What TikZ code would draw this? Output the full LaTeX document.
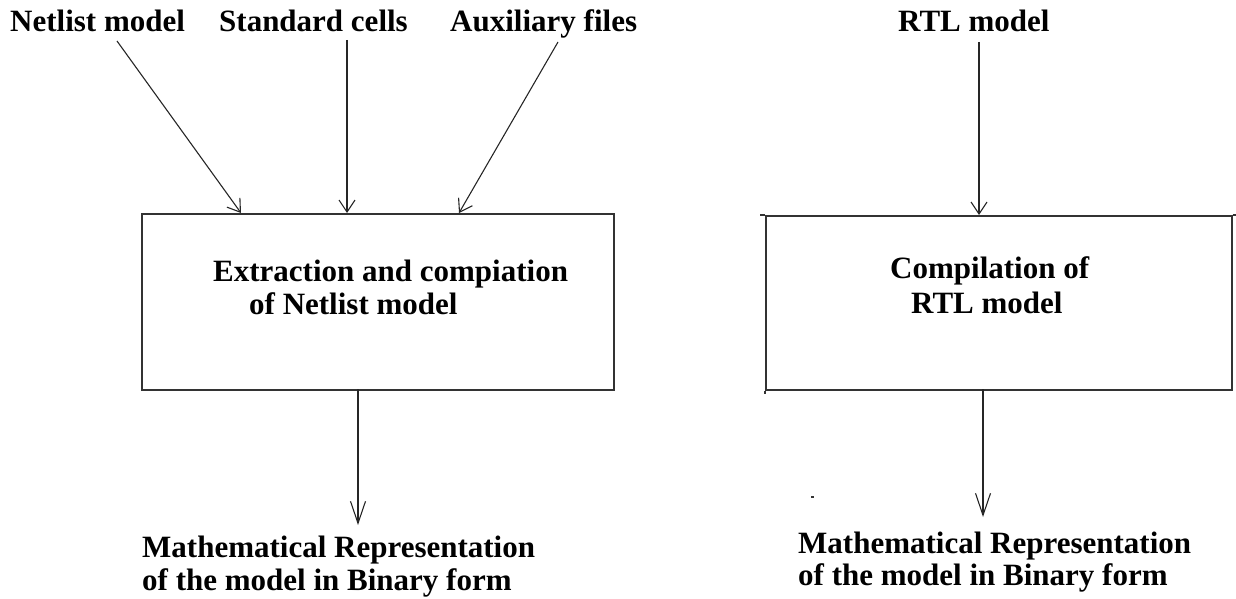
\documentclass[tikz,border=0pt]{standalone}
\usepackage{fontspec}
\setmainfont{Liberation Serif}
\usetikzlibrary{arrows.meta}
\begin{document}
\begin{tikzpicture}[x=1pt,y=-1pt,
  lbl/.style={font=\bfseries\fontsize{31}{33}\selectfont, text=black, inner sep=0pt, anchor=base west},
  blk/.style={draw=black!80, line width=1.5pt, inner sep=0pt, anchor=north west},
  edge/.style={draw=black!80, line width=1.5pt},
  topflow/.style={draw=black!85, line width=1.1pt, -{Straight Barb[length=12pt,width=16pt,line width=1.1pt]}},
  outflow/.style={draw=black!85, line width=1.1pt, -{Straight Barb[length=22pt,width=15pt,line width=1.1pt]}}]
  \useasboundingbox (0,0) rectangle (1236,599);

  % input labels
  \node[lbl] (netlist) at (10,32) {Netlist model};
  \node[lbl] (cells) at (219,32) {Standard cells};
  \node[lbl] (aux) at (450,32) {Auxiliary files};
  \node[lbl] (rtl) at (898,32) {RTL model};

  % processing blocks
  \node[blk, minimum width=472pt, minimum height=176pt] (extract) at (141,213) {};
  \node[blk, minimum width=466pt, minimum height=174pt] (compile) at (765,215) {};
  % small overhangs at the corners of the right block
  \draw[edge] (compile.north west) -- ++(-5,0);
  \draw[edge] (compile.north east) -- ++(3,0);
  \draw[edge] (compile.south west) -- ++(0,3);

  \node[lbl] (ex1) at (213,281) {Extraction and compiation};
  \node[lbl] (ex2) at (249,314) {of Netlist model};
  \node[lbl] (co1) at (890,278) {Compilation of};
  \node[lbl] (co2) at (911,313) {RTL model};

  % outputs
  \node[lbl] (outl1) at (142,557) {Mathematical Representation};
  \node[lbl] (outl2) at (142,590) {of the model in Binary form};
  \node[lbl] (outr1) at (798,553) {Mathematical Representation};
  \node[lbl] (outr2) at (798,585) {of the model in Binary form};

  % stray tick beside the right output
  \fill[black!80] (811,496) rectangle (814,498);

  % connector end points
  \coordinate (a1) at (117,41);
  \coordinate (b1) at (241,213);
  \coordinate (a2) at (347,40);
  \coordinate (b2) at (347,213);
  \coordinate (a3) at (558,42);
  \coordinate (b3) at (459,213);
  \coordinate (a4) at (979,42);
  \coordinate (b4) at (979,215);
  \coordinate (c1) at (358,389);
  \coordinate (d1) at (358,525);
  \coordinate (c2) at (983,389);
  \coordinate (d2) at (983,517);

  \draw[topflow] (a1) -- (b1);
  \draw[topflow] (a2) -- (b2);
  \draw[topflow] (a3) -- (b3);
  \draw[topflow] (a4) -- (b4);
  \draw[outflow] (c1) -- (d1);
  \draw[outflow] (c2) -- (d2);
\end{tikzpicture}
\end{document}
